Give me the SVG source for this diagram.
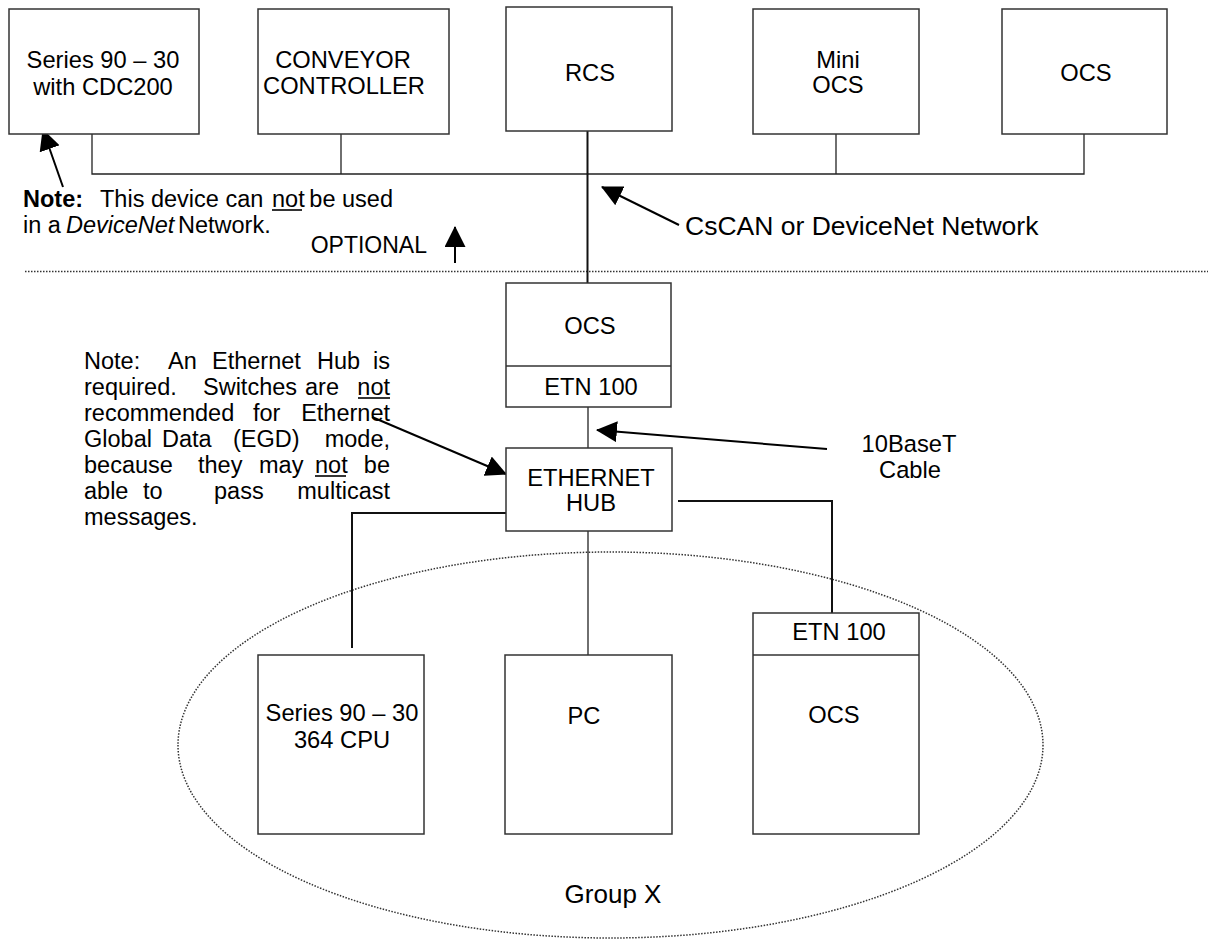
<svg xmlns="http://www.w3.org/2000/svg" width="1208" height="940" viewBox="0 0 1208 940">
<style>
text{font-family:"Liberation Sans",Arial,sans-serif;fill:#000}
.b{font-size:23.7px;text-anchor:middle}
.n{font-size:23.5px}
.n1{font-size:23.5px}
.box{fill:#fff;stroke:#333;stroke-width:1.5}
.ln{fill:none;stroke:#222;stroke-width:1.3}
.lt{fill:none;stroke:#111;stroke-width:2}
.ar{fill:none;stroke:#000;stroke-width:2}
.dot{fill:none;stroke:#333;stroke-width:1.5;stroke-dasharray:1.5 1.5}
.ul{stroke:#000;stroke-width:1.6}
</style>
<defs>
<marker id="ah" viewBox="0 0 20 20" refX="19" refY="10" markerWidth="21" markerHeight="21" markerUnits="userSpaceOnUse" orient="auto">
<path d="M0,0 L20,10 L0,20 z" fill="#000"/>
</marker>
</defs>
<rect width="1208" height="940" fill="#fff"/>

<g id="separator"><line class="dot" x1="25" y1="271.5" x2="1208" y2="271.5"/></g>
<g id="group-x"><ellipse class="dot" cx="610.5" cy="745" rx="432.5" ry="193"/>
<text x="613" y="903" style="font-size:26px;text-anchor:middle">Group X</text></g>

<g id="connectors">
<path class="ln" d="M92,134 V174 H1084 V134"/>
<line class="ln" x1="341" y1="134" x2="341" y2="174"/>
<line class="ln" x1="836" y1="134" x2="836" y2="174"/>
<line class="lt" x1="587.5" y1="131" x2="587.5" y2="283"/>
<line class="ln" x1="588" y1="407" x2="588" y2="448"/>
<path class="lt" d="M506,513 H352 V648"/>
<line class="ln" x1="588" y1="531" x2="588" y2="655"/>
<path class="lt" d="M678,501 H832 V613"/>
<line class="ar" x1="63" y1="187" x2="43" y2="130" marker-end="url(#ah)"/>
<line class="ar" x1="455" y1="263" x2="455" y2="227" marker-end="url(#ah)"/>
<line class="ar" x1="679" y1="225" x2="602" y2="187" marker-end="url(#ah)"/>
<line class="ar" x1="827" y1="449" x2="597" y2="430" marker-end="url(#ah)"/>
<line class="ar" x1="372" y1="417" x2="506" y2="474" marker-end="url(#ah)"/>
</g>

<g id="series90-cdc200"><rect class="box" x="9" y="9" width="190" height="125"/>
<text class="b" x="103" y="68">Series 90 – 30</text><text class="b" x="103" y="95">with CDC200</text></g>
<g id="conveyor"><rect class="box" x="258" y="9" width="191" height="125"/>
<text class="b" x="343" y="68">CONVEYOR</text><text class="b" x="344" y="94">CONTROLLER</text></g>
<g id="rcs"><rect class="box" x="506" y="7" width="166" height="124"/>
<text class="b" x="590" y="81">RCS</text></g>
<g id="mini-ocs"><rect class="box" x="753" y="9" width="166" height="125"/>
<text class="b" x="838" y="68">Mini</text><text class="b" x="838" y="93">OCS</text></g>
<g id="ocs-top"><rect class="box" x="1002" y="9" width="165" height="125"/>
<text class="b" x="1086" y="81">OCS</text></g>

<g id="note1">
<text class="n1" x="23" y="207" font-weight="bold">Note:</text>
<text class="n1" x="100" y="207">This device can</text>
<text class="n1" x="272" y="207">not</text>
<line class="ul" x1="272" y1="210" x2="302" y2="210"/>
<text class="n1" x="393" y="207" text-anchor="end">be used</text>
<text class="n1" x="23" y="233">in a</text>
<text class="n1" x="66" y="233" font-style="italic">DeviceNet</text>
<text class="n1" x="178" y="233">Network.</text>
</g>
<g id="optional"><text x="427" y="253" style="font-size:23px;text-anchor:end">OPTIONAL</text></g>
<g id="cscan-label"><text x="685" y="235" style="font-size:26.5px">CsCAN or DeviceNet Network</text></g>

<g id="ocs-mid"><rect class="box" x="506" y="283" width="165" height="124"/>
<line class="box" x1="506" y1="366" x2="671" y2="366"/>
<text class="b" x="590" y="334">OCS</text><text class="b" x="591" y="395">ETN 100</text></g>

<g id="note2">
<text class="n" x="84" y="369">Note:</text><text class="n" x="168" y="369">An</text><text class="n" x="212" y="369">Ethernet</text><text class="n" x="317" y="369">Hub</text><text class="n" x="390" y="369" text-anchor="end">is</text>
<text class="n" x="84" y="395">required.</text><text class="n" x="203" y="395">Switches</text><text class="n" x="305" y="395">are</text><text class="n" x="390" y="395" text-anchor="end">not</text>
<line class="ul" x1="358" y1="398" x2="390" y2="398"/>
<text class="n" x="84" y="421">recommended</text><text class="n" x="253" y="421">for</text><text class="n" x="390" y="421" text-anchor="end">Ethernet</text>
<text class="n" x="84" y="447">Global</text><text class="n" x="162" y="447">Data</text><text class="n" x="233" y="447">(EGD)</text><text class="n" x="390" y="447" text-anchor="end">mode,</text>
<text class="n" x="84" y="473">because</text><text class="n" x="198" y="473">they</text><text class="n" x="259" y="473">may</text><text class="n" x="315" y="473">not</text><text class="n" x="390" y="473" text-anchor="end">be</text>
<line class="ul" x1="315" y1="476" x2="346" y2="476"/>
<text class="n" x="84" y="499">able</text><text class="n" x="143" y="499">to</text><text class="n" x="214" y="499">pass</text><text class="n" x="390" y="499" text-anchor="end">multicast</text>
<text class="n" x="84" y="525">messages.</text>
</g>

<g id="hub"><rect class="box" x="506" y="448" width="166" height="83"/>
<text class="b" x="591" y="486">ETHERNET</text><text class="b" x="591" y="511">HUB</text></g>
<g id="cable-label"><text class="b" x="909" y="452">10BaseT</text><text class="b" x="910" y="478">Cable</text></g>

<g id="series90-364"><rect class="box" x="258" y="655" width="166" height="179"/>
<text class="b" x="342" y="721">Series 90 – 30</text><text class="b" x="342" y="748">364 CPU</text></g>
<g id="pc"><rect class="box" x="505" y="655" width="167" height="179"/>
<text class="b" x="584" y="724">PC</text></g>
<g id="ocs-bottom"><rect class="box" x="753" y="613" width="166" height="221"/>
<line class="box" x1="753" y1="655" x2="919" y2="655"/>
<text class="b" x="839" y="640">ETN 100</text><text class="b" x="834" y="723">OCS</text></g>
</svg>
